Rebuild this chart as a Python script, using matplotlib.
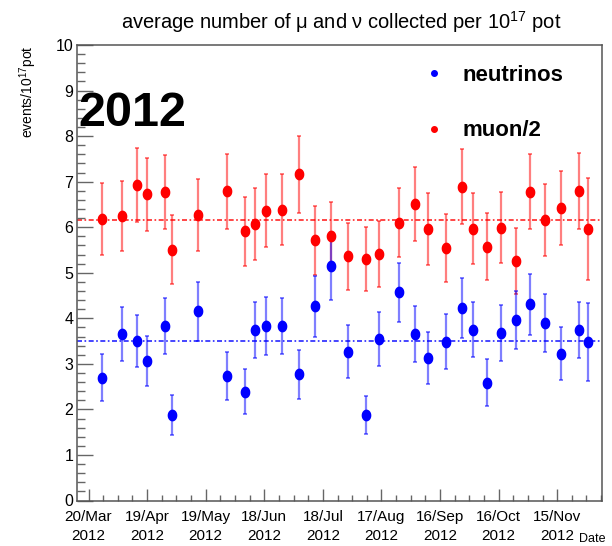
import matplotlib
matplotlib.use("Agg")
import matplotlib.pyplot as plt
import matplotlib.dates as mdates
from matplotlib.lines import Line2D
from matplotlib.path import Path
import numpy as np

plt.rcParams['font.family'] = ['Liberation Sans Narrow', 'Liberation Sans', 'DejaVu Sans']
plt.rcParams['mathtext.default'] = 'regular'

# ---- data ----
dates = ["2012-03-27", "2012-04-06", "2012-04-14", "2012-04-19", "2012-04-28",
         "2012-05-02", "2012-05-15", "2012-05-30", "2012-06-08", "2012-06-13",
         "2012-06-19", "2012-06-27", "2012-07-06", "2012-07-14", "2012-07-22",
         "2012-07-31", "2012-08-09", "2012-08-16", "2012-08-26", "2012-09-03",
         "2012-09-10", "2012-09-19", "2012-09-27", "2012-10-03", "2012-10-10",
         "2012-10-17", "2012-10-25", "2012-11-01", "2012-11-09", "2012-11-17",
         "2012-11-26", "2012-12-01"]
muon = [6.18, 6.25, 6.93, 6.72, 6.77, 5.51, 6.26, 6.79, 5.91, 6.07,
        6.36, 6.38, 7.16, 5.71, 5.80, 5.36, 5.30, 5.41, 6.10, 6.51,
        5.97, 5.55, 6.89, 5.97, 5.57, 5.99, 5.26, 6.78, 6.15, 6.43,
        6.80, 5.96]
muon_err = [0.79, 0.77, 0.81, 0.80, 0.81, 0.75, 0.79, 0.82, 0.76, 0.78,
            0.80, 0.78, 0.85, 0.76, 0.76, 0.73, 0.70, 0.72, 0.75, 0.81,
            0.79, 0.75, 0.82, 0.77, 0.74, 0.78, 0.72, 0.83, 0.79, 0.81,
            0.83, 1.12]
neutrino = [2.70, 3.66, 3.50, 3.07, 3.83, 1.87, 4.15, 2.73, 2.39, 3.74,
            3.83, 3.83, 2.77, 4.26, 5.15, 3.27, 1.88, 3.54, 4.57, 3.66,
            3.12, 3.49, 4.22, 3.75, 2.59, 3.68, 3.96, 4.31, 3.90, 3.22,
            3.74, 3.48]
neutrino_err = [0.52, 0.59, 0.58, 0.55, 0.61, 0.44, 0.64, 0.52, 0.49, 0.62,
                0.63, 0.61, 0.54, 0.66, 0.74, 0.58, 0.42, 0.59, 0.65, 0.62,
                0.57, 0.60, 0.66, 0.61, 0.51, 0.62, 0.64, 0.67, 0.64, 0.58,
                0.61, 0.86]
muon_mean = 6.16
neutrino_mean = 3.50

tick_start = "2012-03-20"
tick_labels = ["20/Mar\n2012", "19/Apr\n2012", "19/May\n2012", "18/Jun\n2012",
               "18/Jul\n2012", "17/Aug\n2012", "16/Sep\n2012", "16/Oct\n2012",
               "15/Nov\n2012"]
x_range = ["2012-03-14 06:00", "2012-12-07 19:00"]

# ---- figure ----
W, H = 612, 546
fig = plt.figure(figsize=(W / 100, H / 100), dpi=100)
ax = fig.add_axes([77.3 / W, 1 - 500.5 / H, (601.7 - 77.3) / W, (500.5 - 45) / H])

x = mdates.datestr2num(dates)
t0 = mdates.datestr2num(tick_start)
xlo, xhi = mdates.datestr2num(x_range)

ax.set_xlim(xlo, xhi)
ax.set_ylim(0, 10)

# ellipse marker (slightly narrower than tall)
th = np.linspace(0, 2 * np.pi, 40)
ell = Path(np.column_stack([0.82 * np.cos(th), np.sin(th)]), closed=True)

ax.axhline(muon_mean, color='red', lw=1.2, ls=(0, (3, 1.5, 1, 1.5)), alpha=0.85, zorder=1)
ax.axhline(neutrino_mean, color='blue', lw=1.2, ls=(0, (3, 1.5, 1, 1.5)), alpha=0.85, zorder=1)

for vals, errs, col, ecol in [(muon, muon_err, 'red', (1, 0, 0, 0.5)),
                              (neutrino, neutrino_err, 'blue', (0, 0, 1, 0.5))]:
    ax.errorbar(x, vals, yerr=errs, fmt='none', ecolor=ecol, elinewidth=1.6,
                capsize=1.2, capthick=1.4, zorder=2)
    ax.plot(x, vals, ls='none', marker=ell, markersize=8.5, color=col,
            markeredgewidth=0, zorder=3)

# axes styling
for s in ax.spines.values():
    s.set_color('#555555')
    s.set_linewidth(1.1)

ax.set_yticks(np.arange(0, 11, 1))
ax.set_yticks(np.arange(0, 10.01, 0.2), minor=True)
ax.set_xticks([t0 + 30 * k for k in range(len(tick_labels))])
ax.set_xticklabels(tick_labels, fontsize=11, linespacing=1.5)
ax.set_xticks(np.arange(t0, xhi, 7.5), minor=True)

ax.tick_params(axis='y', which='major', direction='in', length=11.5, width=1.0,
               color='#666666', labelsize=11.5, pad=3)
ax.tick_params(axis='y', which='minor', direction='in', length=5.8, width=1.0,
               color='#666666')
ax.tick_params(axis='x', which='major', direction='in', length=8.5, width=1.0,
               color='#666666', pad=6.5)
ax.tick_params(axis='x', which='minor', direction='in', length=4.5, width=1.0,
               color='#666666')
ax.tick_params(top=False, right=False)

# legend
handles = [Line2D([], [], ls='none', marker='o', color='blue', markersize=4),
           Line2D([], [], ls='none', marker='o', color='red', markersize=4)]
ax.legend(handles, ['neutrinos', 'muon/2'], loc='upper left',
          bbox_to_anchor=((418 - 77.3) / (601.7 - 77.3), 1 - (56 - 45) / 455.5),
          frameon=False, prop={'weight': 'bold', 'size': 16},
          handlelength=0.6, handletextpad=1.0, labelspacing=1.55, borderaxespad=0)

# texts
fig.text(341 / W, 1 - 22 / H,
         r"average number of μ and ν collected per 10$^{17}$ pot",
         ha='center', va='center', fontsize=14.5)
fig.text(132 / W, 1 - 114 / H, "2012", ha='center', va='center', fontsize=35,
         fontweight='bold', family=['Liberation Sans', 'DejaVu Sans'])
fig.text(28 / W, 1 - 45 / H, r"events/10$^{17}$pot", rotation=90,
         ha='center', va='top', fontsize=10)
fig.text(606 / W, 1 - 546 / H + 1 / H, "Date", ha='right', va='bottom', fontsize=9)

fig.savefig("out.png", dpi=100)
